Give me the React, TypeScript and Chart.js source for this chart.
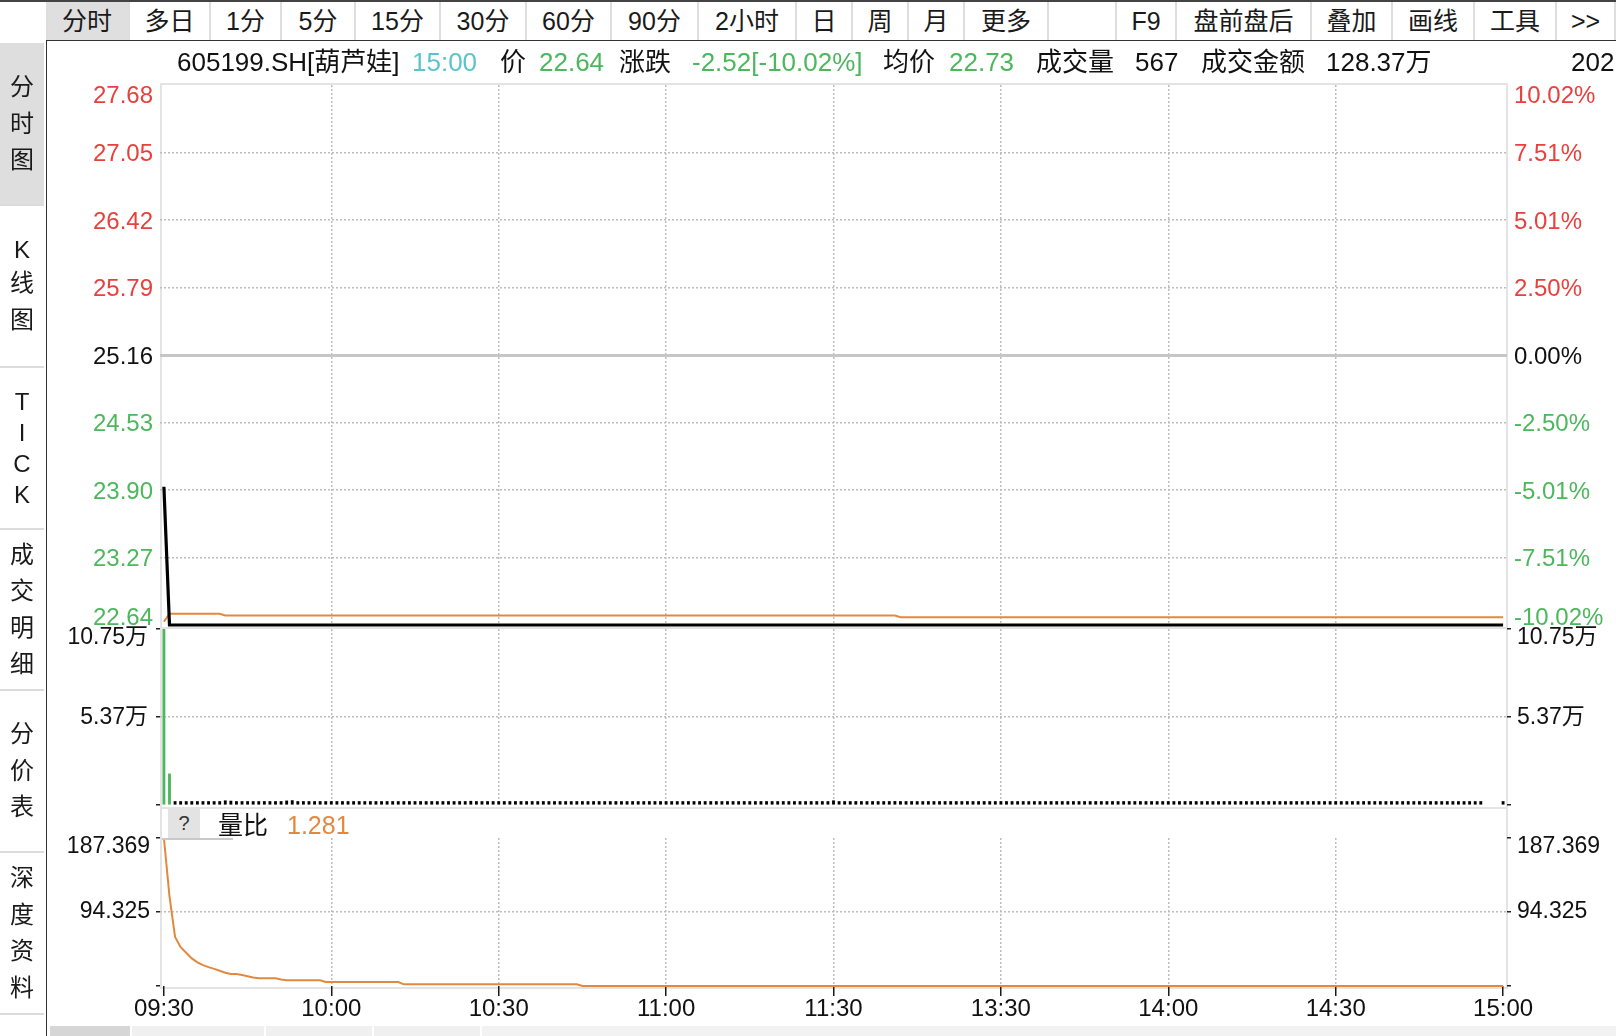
import React, { useEffect, useRef } from 'react';
import { Chart, registerables } from 'chart.js';

Chart.register(...registerables);

const FONT = '"Liberation Sans", "Noto Sans CJK SC", Arial, sans-serif';
const RED = '#e8403c';
const GREEN = '#4cb75c';
const ORANGE = '#e2893f';
const CYAN = '#5bc3cd';
const GRID = '#bdbdbd';
const FRAME = '#e4e4e4';
const INK = '#111111';

// ---------- time axis: minute index 0..240 (11:30 and 13:00 share index 120) ----------
const TIME_TICKS = [0, 30, 60, 90, 120, 150, 180, 210, 240];
const TIME_LABELS = ['09:30', '10:00', '10:30', '11:00', '11:30', '13:30', '14:00', '14:30', '15:00'];

// ---------- price pane ----------
const PREV_CLOSE = 25.16;
const PRICE_TICKS = [22.64, 23.27, 23.9, 24.53, 25.16, 25.79, 26.42, 27.05, 27.68];
const PCT_LABELS = ['-10.02%', '-7.51%', '-5.01%', '-2.50%', '0.00%', '2.50%', '5.01%', '7.51%', '10.02%'];
// [value, number of minutes]
const PRICE_RUNS: [number, number][] = [[23.93, 1], [22.64, 240]];
const AVG_RUNS: [number, number][] = [[22.67, 1], [22.745, 10], [22.728, 121], [22.712, 109]];

// ---------- volume pane (lots) ----------
const VOL_TICKS = [0, 53750, 107500];
const VOL_LABELS = ['', '5.37万', '10.75万'];
const VOLUME: (number | null)[] = [
  107500, 19000,
  420, 380, 350, 300, 310, 280, 260, 300, 270,
  2600, 2400, 300, 260, 240, 280, 250, 230, 260, 240,
  1800, 2500, 2700, 300, 260, 240, 220, 250, 230, 240,
  220, 210, 230, 250, 220, 200, 240, 210, 230, 220,
  200, 210, 230, 220, 260, 210, 200, 220, 210, 230,
  210, 200, 220, 240, 2300, 210, 200, 190, 210, 220,
  200, 210, 190, 200, 220, 210, 200, 190, 200, 210,
  190, 200, 210, 200, 190, 200, 210, 190, 200, 220,
  200, 190, 210, 200, 190, 200, 210, 200, 190, 2100,
  200, 190, 210, 200, 190, 200, 210, 190, 200, 210,
  190, 200, 210, 190, 200, 190, 210, 200, 190, 200,
  210, 190, 200, 190, 200, 210, 190, 200, 210, 2600,
  200, 190, 210, 200, 190, 200, 210, 190, 200, 210,
  2200, 200, 190, 210, 200, 190, 200, 210, 190, 200,
  190, 200, 210, 190, 200, 210, 190, 200, 190, 210,
  200, 190, 210, 200, 190, 200, 210, 190, 200, 210,
  190, 200, 210, 190, 200, 190, 210, 200, 190, 200,
  210, 190, 200, 190, 200, 210, 190, 200, 210, 190,
  200, 210, 190, 200, 190, 210, 200, 190, 200, 210,
  190, 200, 210, 190, 200, 210, 190, 200, 190, 210,
  200, 190, 210, 200, 190, 200, 210, 190, 200, 210,
  190, 200, 210, 190, 200, 190, 210, 200, 190, 200,
  210, 190, 200, 190, 200, 210, 190, 200, 210, 190,
  200, 210, 190, 200, 190, 210,
  null, null, null,
  567,
];

// ---------- volume-ratio pane ----------
const RATIO_TICKS = [1.281, 94.325, 187.369];
const RATIO_LABELS = ['', '94.325', '187.369'];
const RATIO_RUNS: [number, number][] = [
  [187.369, 1], [114, 1], [63, 1], [50, 1], [43, 1], [36, 1], [31, 1], [27.5, 1], [25, 1], [22.8, 1],
  [20.5, 1], [18, 1], [16.4, 2], [15, 1], [13.5, 1], [12, 1], [11, 4], [9.5, 1], [8.5, 7], [6.3, 14],
  [3.4, 32], [1.281, 166],
];

// ---------- layout ----------
const X_MIN = -0.7;
const X_MAX = 240.7;
const LEFT_W = 160;
const RIGHT_W = 109;

function expand(runs: [number, number][]): number[] {
  const out: number[] = [];
  runs.forEach(([v, c]) => {
    for (let k = 0; k < c; k++) out.push(v);
  });
  return out;
}

const isPrev = (v: any) => typeof v === 'number' && Math.abs(v - PREV_CLOSE) < 1e-6;
const priceColor = (v: number) => (v > PREV_CLOSE + 1e-6 ? RED : v < PREV_CLOSE - 1e-6 ? GREEN : INK);

// top label pushed below its tick, bottom label pushed above (two-line trick)
function edgeLabel(text: string, i: number, n: number, shiftBottom: boolean): any {
  if (i === n - 1 && text) return ['', text];
  if (i === 0 && shiftBottom && text) return [text, ''];
  return text;
}
function edgeFont(i: number, n: number, size: number, topLh: number, bottomLh: number) {
  let lineHeight: any = 1.2;
  if (i === n - 1 && topLh) lineHeight = topLh + 'px';
  else if (i === 0 && bottomLh) lineHeight = bottomLh + 'px';
  return { family: FONT, size, lineHeight };
}

function xScale(showLabels: boolean): any {
  return {
    type: 'linear',
    min: X_MIN,
    max: X_MAX,
    bounds: 'data',
    offset: false,
    afterBuildTicks: (s: any) => {
      s.ticks = TIME_TICKS.map((v) => ({ value: v }));
    },
    afterFit: (s: any) => {
      s.height = showLabels ? 40 : 0;
    },
    grid: {
      offset: false,
      color: (c: any) =>
        c.index === undefined || c.index === 0 || c.index === TIME_TICKS.length - 1 ? 'transparent' : GRID,
      lineWidth: 1.5,
      drawTicks: showLabels,
      tickLength: 10,
      tickColor: '#1a1a1a',
      tickWidth: 1.5,
    },
    border: { display: false, dash: [2, 2] },
    ticks: {
      display: showLabels,
      autoSkip: false,
      maxRotation: 0,
      minRotation: 0,
      padding: 0,
      color: INK,
      font: { family: FONT, size: 24, lineHeight: 1.1 },
      callback: (_v: any, i: number) => TIME_LABELS[i],
    },
  };
}

function sideScale(opts: {
  position: 'left' | 'right';
  min: number;
  max: number;
  ticks: number[];
  labels: (i: number) => string;
  color: (i: number) => string;
  size: number;
  padding: number;
  labelOffset: number;
  drawTicks: boolean;
  topLh: number;
  bottomLh: number;
  shiftBottom: boolean;
  onArea: boolean;
  gridColor?: (c: any) => string;
  gridWidth?: (c: any) => number;
  dash?: (c: any) => number[];
}): any {
  const n = opts.ticks.length;
  return {
    type: 'linear',
    position: opts.position,
    min: opts.min,
    max: opts.max,
    bounds: 'data',
    afterBuildTicks: (s: any) => {
      s.ticks = opts.ticks.map((v) => ({ value: v }));
    },
    afterFit: (s: any) => {
      s.width = opts.position === 'left' ? LEFT_W : RIGHT_W;
    },
    grid: {
      drawOnChartArea: opts.onArea,
      color: opts.gridColor || 'transparent',
      lineWidth: opts.gridWidth || 1.5,
      drawTicks: opts.drawTicks,
      tickLength: 4,
      tickColor: '#222',
      tickWidth: 1.5,
    },
    border: { display: false, dash: opts.dash || [2, 2] },
    ticks: {
      autoSkip: false,
      padding: opts.padding,
      labelOffset: opts.labelOffset,
      color: (c: any) => opts.color(c.index),
      font: (c: any) => edgeFont(c.index, n, opts.size, opts.topLh, opts.bottomLh),
      callback: (_v: any, i: number) => edgeLabel(opts.labels(i), i, n, opts.shiftBottom),
    },
  };
}

const baseOptions = (top: number, bottom: number): any => ({
  animation: false,
  responsive: false,
  devicePixelRatio: 1,
  events: [],
  layout: { padding: { top, bottom, left: 0, right: 0 } },
  plugins: { legend: { display: false }, tooltip: { enabled: false } },
});

const TOOLBAR: [string, number, number][] = [
  ['分时', 46, 130], ['多日', 130, 211], ['1分', 211, 282], ['5分', 282, 356], ['15分', 356, 441],
  ['30分', 441, 527], ['60分', 527, 612], ['90分', 612, 699], ['2小时', 699, 797], ['日', 797, 853],
  ['周', 853, 909], ['月', 909, 965], ['更多', 965, 1049], ['', 1049, 1117], ['F9', 1117, 1177],
  ['盘前盘后', 1177, 1312], ['叠加', 1312, 1393], ['画线', 1393, 1475], ['工具', 1475, 1557], ['>>', 1557, 1616],
];

const SIDE: [string[], number, number][] = [
  [['分', '时', '图'], 43, 205],
  [['K', '线', '图'], 205, 367],
  [['T', 'I', 'C', 'K'], 367, 529],
  [['成', '交', '明', '细'], 529, 690],
  [['分', '价', '表'], 690, 852],
  [['深', '度', '资', '料'], 852, 1014],
];

const HEADER: [string, number, string][] = [
  ['605199.SH[葫芦娃]', 177, INK],
  ['15:00', 412, CYAN],
  ['价', 500, INK],
  ['22.64', 539, GREEN],
  ['涨跌', 619, INK],
  ['-2.52[-10.02%]', 692, GREEN],
  ['均价', 883, INK],
  ['22.73', 949, GREEN],
  ['成交量', 1036, INK],
  ['567', 1135, INK],
  ['成交金额', 1201, INK],
  ['128.37万', 1326, INK],
  ['202', 1571, INK],
];

const abs = (left: number, top: number, width: number, height: number, extra: any = {}): any => ({
  position: 'absolute',
  left,
  top,
  width,
  height,
  ...extra,
});

export default function App() {
  const priceRef = useRef<HTMLCanvasElement>(null);
  const volRef = useRef<HTMLCanvasElement>(null);
  const ratioRef = useRef<HTMLCanvasElement>(null);

  useEffect(() => {
    document.body.style.margin = '0';
    const price = expand(PRICE_RUNS);
    const avg = expand(AVG_RUNS);
    const ratio = expand(RATIO_RUNS);
    const volColors = VOLUME.map((_, i) => {
      const prev = i === 0 ? PREV_CLOSE : price[i - 1];
      const p = price[i];
      return p > prev + 1e-9 ? RED : p < prev - 1e-9 ? GREEN : '#000';
    });

    const charts: Chart[] = [];

    charts.push(
      new Chart(priceRef.current as HTMLCanvasElement, {
        type: 'line',
        data: {
          datasets: [
            {
              data: price.map((y, i) => ({ x: i, y })),
              borderColor: '#000',
              borderWidth: 3.2,
              pointRadius: 0,
              tension: 0,
              clip: false as any,
            },
            {
              data: avg.map((y, i) => ({ x: i, y })),
              borderColor: ORANGE,
              borderWidth: 2,
              pointRadius: 0,
              tension: 0,
              clip: false as any,
            },
          ],
        },
        options: {
          ...baseOptions(40, 40),
          scales: {
            x: xScale(false),
            y: sideScale({
              position: 'left',
              min: PRICE_TICKS[0],
              max: PRICE_TICKS[PRICE_TICKS.length - 1],
              ticks: PRICE_TICKS,
              labels: (i) => PRICE_TICKS[i].toFixed(2),
              color: (i) => priceColor(PRICE_TICKS[i]),
              size: 24,
              padding: 7,
              labelOffset: 2,
              drawTicks: false,
              topLh: 18,
              bottomLh: 18,
              shiftBottom: true,
              onArea: true,
              gridColor: (c: any) => {
                if (c.index === undefined || c.index === 0 || c.index === PRICE_TICKS.length - 1) return 'transparent';
                return isPrev(c.tick && c.tick.value) ? '#c6c6c6' : GRID;
              },
              gridWidth: (c: any) => (isPrev(c.tick && c.tick.value) ? 3 : 1.5),
              dash: (c: any) => (isPrev(c.tick && c.tick.value) ? [] : [2, 2]),
            }),
            y2: sideScale({
              position: 'right',
              min: PRICE_TICKS[0],
              max: PRICE_TICKS[PRICE_TICKS.length - 1],
              ticks: PRICE_TICKS,
              labels: (i) => PCT_LABELS[i],
              color: (i) => priceColor(PRICE_TICKS[i]),
              size: 24,
              padding: 7,
              labelOffset: 2,
              drawTicks: false,
              topLh: 18,
              bottomLh: 18,
              shiftBottom: true,
              onArea: false,
            }),
          },
        } as any,
      })
    );

    charts.push(
      new Chart(volRef.current as HTMLCanvasElement, {
        type: 'bar',
        data: {
          datasets: [
            {
              data: VOLUME.map((y, i) => ({ x: i, y })) as any,
              backgroundColor: volColors,
              borderWidth: 0,
              barThickness: 2.2,
              minBarLength: 3.5,
            },
          ],
        },
        options: {
          ...baseOptions(29, 40),
          scales: {
            x: xScale(false),
            y: sideScale({
              position: 'left',
              min: 0,
              max: VOL_TICKS[VOL_TICKS.length - 1],
              ticks: VOL_TICKS,
              labels: (i) => VOL_LABELS[i],
              color: () => INK,
              size: 23,
              padding: 8,
              labelOffset: 1,
              drawTicks: true,
              topLh: 16,
              bottomLh: 0,
              shiftBottom: false,
              onArea: true,
              gridColor: (c: any) => (c.index === 1 ? GRID : 'transparent'),
            }),
            y2: sideScale({
              position: 'right',
              min: 0,
              max: VOL_TICKS[VOL_TICKS.length - 1],
              ticks: VOL_TICKS,
              labels: (i) => VOL_LABELS[i],
              color: () => INK,
              size: 23,
              padding: 6,
              labelOffset: 1,
              drawTicks: true,
              topLh: 16,
              bottomLh: 0,
              shiftBottom: false,
              onArea: false,
            }),
          },
        } as any,
      })
    );

    charts.push(
      new Chart(ratioRef.current as HTMLCanvasElement, {
        type: 'line',
        data: {
          datasets: [
            {
              data: ratio.map((y, i) => ({ x: i, y })),
              borderColor: ORANGE,
              borderWidth: 2,
              pointRadius: 0,
              tension: 0,
              clip: false as any,
            },
          ],
        },
        options: {
          ...baseOptions(33, 10),
          scales: {
            x: xScale(true),
            y: sideScale({
              position: 'left',
              min: RATIO_TICKS[0],
              max: RATIO_TICKS[RATIO_TICKS.length - 1],
              ticks: RATIO_TICKS,
              labels: (i) => RATIO_LABELS[i],
              color: () => INK,
              size: 23,
              padding: 6,
              labelOffset: 0,
              drawTicks: true,
              topLh: 18,
              bottomLh: 0,
              shiftBottom: false,
              onArea: true,
              gridColor: (c: any) => (c.index === 1 ? GRID : 'transparent'),
            }),
            y2: sideScale({
              position: 'right',
              min: RATIO_TICKS[0],
              max: RATIO_TICKS[RATIO_TICKS.length - 1],
              ticks: RATIO_TICKS,
              labels: (i) => RATIO_LABELS[i],
              color: () => INK,
              size: 23,
              padding: 6,
              labelOffset: 0,
              drawTicks: true,
              topLh: 18,
              bottomLh: 0,
              shiftBottom: false,
              onArea: false,
            }),
          },
        } as any,
      })
    );

    return () => charts.forEach((c) => c.destroy());
  }, []);

  return (
    <div
      style={{
        position: 'fixed',
        left: 0,
        top: 0,
        width: 1616,
        height: 1036,
        background: '#fff',
        overflow: 'hidden',
        fontFamily: FONT,
        color: INK,
      }}
    >
      {/* pane frames */}
      <div style={abs(160, 83, 2, 906, { background: FRAME })} />
      <div style={abs(1506, 83, 2, 906, { background: FRAME })} />
      <div style={abs(160, 83, 1348, 2, { background: FRAME })} />
      <div style={abs(160, 627, 1348, 2, { background: FRAME })} />
      <div style={abs(160, 807, 1348, 2, { background: FRAME })} />
      <div style={abs(160, 987, 1348, 2, { background: FRAME })} />

      {/* price: chart area 85..625 ; volume: 629..805 ; ratio: 838..986 */}
      <canvas ref={priceRef} width={1616} height={620} style={abs(0, 45, 1616, 620)} />
      <canvas ref={volRef} width={1616} height={245} style={abs(0, 600, 1616, 245)} />
      <canvas ref={ratioRef} width={1616} height={231} style={abs(0, 805, 1616, 231)} />

      {/* toolbar */}
      <div style={abs(0, 0, 1616, 2, { background: '#444' })} />
      {TOOLBAR.map(([t, l, r], k) => (
        <div
          key={'tb' + k}
          style={abs(l, 2, r - l - 2, 38, {
            background: k === 0 ? '#dfdfdf' : '#fff',
            borderRight: '2px solid #dedede',
            textAlign: 'center',
            lineHeight: '38px',
            fontSize: 25,
            color: '#1a1a1a',
          })}
        >
          {t}
        </div>
      ))}
      <div style={abs(46, 40, 1570, 1, { background: '#333' })} />
      <div style={abs(46, 40, 1, 996, { background: '#333' })} />

      {/* side tabs */}
      <div style={abs(0, 43, 44, 162, { background: '#dedede' })} />
      {SIDE.map(([chars, t, b], k) => (
        <div
          key={'sd' + k}
          style={abs(0, t, 44, b - t, {
            display: 'flex',
            flexDirection: 'column',
            justifyContent: 'center',
            alignItems: 'center',
            fontSize: 24,
            color: '#1a1a1a',
          })}
        >
          {chars.map((ch, j) => (
            <div key={j} style={{ lineHeight: /[A-Z]/.test(ch) ? '31px' : '36.5px', height: /[A-Z]/.test(ch) ? 31 : 36.5 }}>
              {ch}
            </div>
          ))}
        </div>
      ))}
      {[205, 367, 529, 690, 852, 1014].map((y) => (
        <div key={'sp' + y} style={abs(0, y - 1, 44, 2, { background: '#dcdcdc' })} />
      ))}

      {/* info header */}
      {HEADER.map(([t, l, c], k) => (
        <div
          key={'hd' + k}
          style={abs(l, 42, 400, 40, { lineHeight: '40px', fontSize: 26, color: c, whiteSpace: 'nowrap' })}
        >
          {t}
        </div>
      ))}

      {/* ratio pane title */}
      <div
        style={abs(168, 809, 32, 29, {
          background: '#e3e3e3',
          textAlign: 'center',
          lineHeight: '29px',
          fontSize: 20,
          color: '#333',
        })}
      >
        ?
      </div>
      <div style={abs(162, 838, 71, 2, { background: '#c8c8c8' })} />
      <div style={abs(218, 810, 80, 30, { lineHeight: '30px', fontSize: 25, color: INK })}>量比</div>
      <div style={abs(287, 810, 100, 30, { lineHeight: '30px', fontSize: 25, color: ORANGE })}>1.281</div>

      {/* bottom tabs */}
      <div style={abs(50, 1026, 80, 10, { background: '#d6d6d6' })} />
      <div style={abs(132, 1026, 132, 10, { background: '#f0f0f0' })} />
      <div style={abs(266, 1026, 106, 10, { background: '#f0f0f0' })} />
      <div style={abs(374, 1026, 106, 10, { background: '#f0f0f0' })} />
      <div style={abs(482, 1026, 1134, 10, { background: '#f2f2f2' })} />
    </div>
  );
}
